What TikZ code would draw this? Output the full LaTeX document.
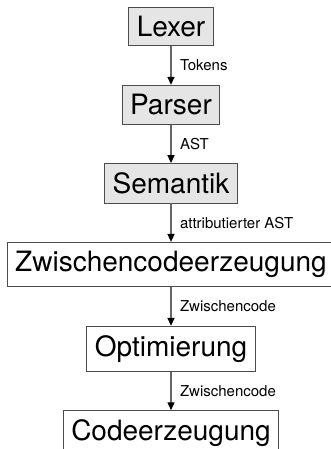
\documentclass[tikz,border=0pt]{standalone}
\usepackage{fontspec}
\setmainfont{TeX Gyre Heros}
\usetikzlibrary{positioning,arrows.meta}
\begin{document}
\begin{tikzpicture}[
  node distance=38.5pt,
  phase/.style={draw=black!70, line width=0.9pt, inner xsep=8pt, inner ysep=9pt,
    font=\fontsize{28}{31}\selectfont},
  front/.style={phase, fill=black!10},
  flow/.style={draw=black!60, line width=1.4pt, -{Triangle[length=8pt,width=7pt,black]}},
  lbl/.style={midway, right=5pt, font=\fontsize{15}{17}\selectfont}]
\path[use as bounding box] (0,0) rectangle (331pt,-449pt);
\node[front] (lexer) at (171pt,-26.5pt) {Lexer};
\node[front, below=of lexer] (parser) {Parser};
\node[front, below=of parser] (semantik) {Semantik};
\node[phase, below=of semantik] (zwcode) {Zwischencodeerzeugung};
\node[phase, below=of zwcode] (opt) {Optimierung};
\node[phase, below=of opt] (codegen) {Codeerzeugung};
\draw[flow] (lexer) -- node[lbl]{Tokens} (parser);
\draw[flow] (parser) -- node[lbl]{AST} (semantik);
\draw[flow] (semantik) -- node[lbl]{attributierter AST} (zwcode);
\draw[flow] (zwcode) -- node[lbl]{Zwischencode} (opt);
\draw[flow] (opt) -- node[lbl]{Zwischencode} (codegen);
\end{tikzpicture}
\end{document}
